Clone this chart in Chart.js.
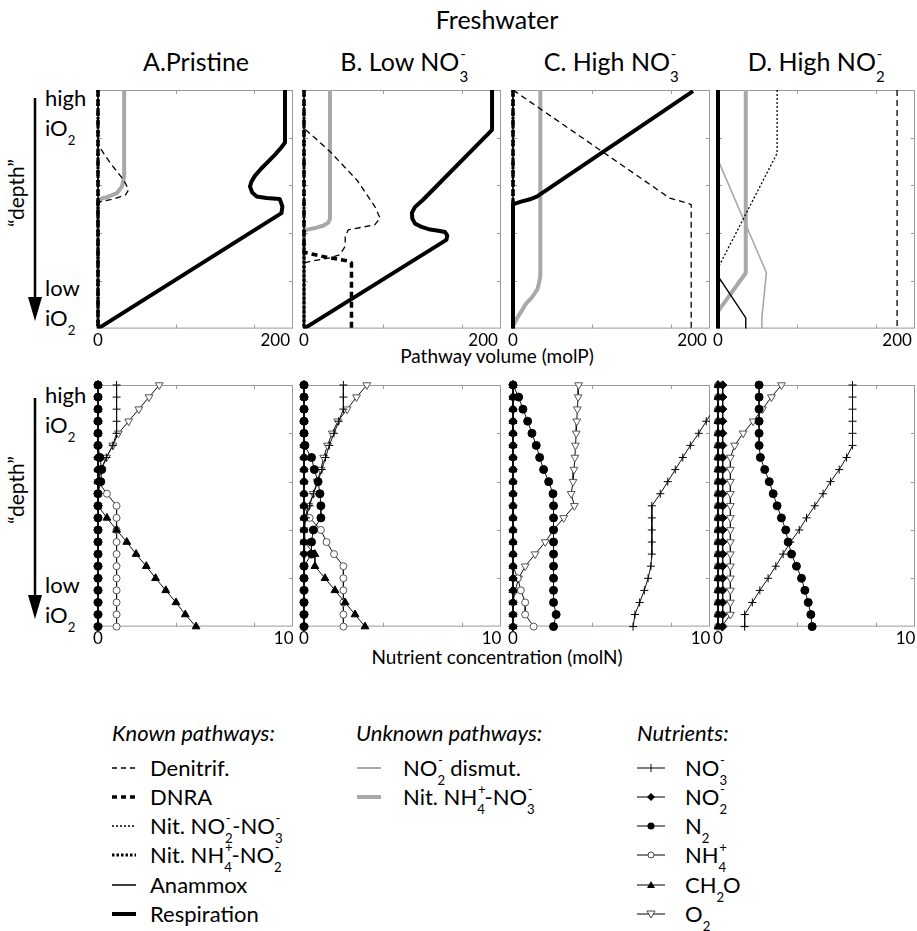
<!DOCTYPE html>
<html><head><meta charset="utf-8">
<script src="https://cdn.jsdelivr.net/npm/chart.js@4.4.1/dist/chart.umd.min.js"></script>
<style>
html,body{margin:0;padding:0;background:#fff;overflow:hidden;width:917px;height:931px;}
body{position:relative;font-family:Lato,'Open Sans',sans-serif;color:#000;}
.t{position:absolute;white-space:nowrap;line-height:1;}
.c{transform:translateX(-50%);}
canvas{position:absolute;}
.ss{position:relative;display:inline-block;height:0;width:0.55em;font-size:0.6em;}
.sp{position:absolute;left:0.05em;bottom:0.7em;}
.sb{position:absolute;left:0;top:-0.15em;}
.it{font-style:italic;}
svg{position:absolute;left:0;top:0;}
.lg{font-size:22px;}
</style>
</head><body>

<!-- titles -->
<div class="t c" style="left:497px;top:7px;font-size:25px;">Freshwater</div>
<div class="t c" style="left:196px;top:49px;font-size:25px;">A.Pristine</div>
<div class="t c" style="left:404px;top:49px;font-size:25px;">B. Low NO<span class="ss"><span class="sp">-</span><span class="sb">3</span></span></div>
<div class="t c" style="left:611px;top:49px;font-size:25px;">C. High NO<span class="ss"><span class="sp">-</span><span class="sb">3</span></span></div>
<div class="t c" style="left:816px;top:49px;font-size:25px;">D. High NO<span class="ss"><span class="sp">-</span><span class="sb">2</span></span></div>

<!-- left depth labels -->
<div class="t" style="left:45px;top:87px;font-size:22px;">high</div>
<div class="t" style="left:45px;top:117px;font-size:22px;">iO<span class="ss"><span class="sb">2</span></span></div>
<div class="t" style="left:45px;top:277px;font-size:22px;">low</div>
<div class="t" style="left:45px;top:307px;font-size:22px;">iO<span class="ss"><span class="sb">2</span></span></div>
<div class="t" style="left:45px;top:384px;font-size:22px;">high</div>
<div class="t" style="left:45px;top:414px;font-size:22px;">iO<span class="ss"><span class="sb">2</span></span></div>
<div class="t" style="left:45px;top:574px;font-size:22px;">low</div>
<div class="t" style="left:45px;top:604px;font-size:22px;">iO<span class="ss"><span class="sb">2</span></span></div>
<div class="t" style="left:15px;top:193px;font-size:21px;transform:translate(-50%,-50%) rotate(-90deg);">&#8220;depth&#8221;</div>
<div class="t" style="left:15px;top:490px;font-size:21px;transform:translate(-50%,-50%) rotate(-90deg);">&#8220;depth&#8221;</div>

<!-- axis titles -->
<div class="t c" style="left:497px;top:346px;font-size:19px;">Pathway volume (molP)</div>
<div class="t c" style="left:497px;top:647px;font-size:19px;">Nutrient concentration (molN)</div>

<!-- legend text -->
<div class="t it lg" style="left:112px;top:722px;">Known pathways:</div>
<div class="t lg" style="left:150px;top:757px;">Denitrif.</div>
<div class="t lg" style="left:150px;top:786px;">DNRA</div>
<div class="t lg" style="left:150px;top:815px;">Nit. NO<span class="ss"><span class="sp">-</span><span class="sb">2</span></span>-NO<span class="ss"><span class="sp">-</span><span class="sb">3</span></span></div>
<div class="t lg" style="left:150px;top:844px;">Nit. NH<span class="ss"><span class="sp">+</span><span class="sb">4</span></span>-NO<span class="ss"><span class="sp">-</span><span class="sb">2</span></span></div>
<div class="t lg" style="left:150px;top:874px;">Anammox</div>
<div class="t lg" style="left:150px;top:903px;">Respiration</div>

<div class="t it lg" style="left:356px;top:722px;">Unknown pathways:</div>
<div class="t lg" style="left:403px;top:757px;">NO<span class="ss"><span class="sp">-</span><span class="sb">2</span></span> dismut.</div>
<div class="t lg" style="left:403px;top:786px;">Nit. NH<span class="ss"><span class="sp">+</span><span class="sb">4</span></span>-NO<span class="ss"><span class="sp">-</span><span class="sb">3</span></span></div>

<div class="t it lg" style="left:637px;top:722px;">Nutrients:</div>
<div class="t lg" style="left:685px;top:757px;">NO<span class="ss"><span class="sp">-</span><span class="sb">3</span></span></div>
<div class="t lg" style="left:685px;top:786px;">NO<span class="ss"><span class="sp">-</span><span class="sb">2</span></span></div>
<div class="t lg" style="left:685px;top:815px;">N<span class="ss"><span class="sb">2</span></span></div>
<div class="t lg" style="left:685px;top:844px;">NH<span class="ss"><span class="sp">+</span><span class="sb">4</span></span></div>
<div class="t lg" style="left:685px;top:874px;">CH<span class="ss" style="width:0.5em"><span class="sb">2</span></span>O</div>
<div class="t lg" style="left:685px;top:903px;">O<span class="ss"><span class="sb">2</span></span></div>

<svg width="917" height="931">
  <!-- depth arrows -->
  <line x1="35" y1="98" x2="35" y2="300" stroke="#000" stroke-width="2.5"/>
  <polygon points="28,297 42,297 35,321" fill="#000"/>
  <line x1="35" y1="398" x2="35" y2="598" stroke="#000" stroke-width="2.5"/>
  <polygon points="28,595 42,595 35,619" fill="#000"/>
  <!-- legend samples: known -->
  <line x1="112" y1="768" x2="136" y2="768" stroke="#000" stroke-width="1.4" stroke-dasharray="5,4"/>
  <line x1="112" y1="797" x2="136" y2="797" stroke="#000" stroke-width="3.5" stroke-dasharray="5,4"/>
  <line x1="112" y1="826" x2="136" y2="826" stroke="#000" stroke-width="1.3" stroke-dasharray="2,2"/>
  <line x1="112" y1="855" x2="136" y2="855" stroke="#000" stroke-width="3" stroke-dasharray="2.5,2"/>
  <line x1="112" y1="885" x2="136" y2="885" stroke="#000" stroke-width="1.5"/>
  <line x1="112" y1="914" x2="136" y2="914" stroke="#000" stroke-width="4"/>
  <!-- unknown -->
  <line x1="357" y1="768" x2="381" y2="768" stroke="#a8a8a8" stroke-width="2"/>
  <line x1="357" y1="797" x2="381" y2="797" stroke="#a8a8a8" stroke-width="4"/>
  <!-- nutrients -->
  <g stroke="#000" stroke-width="1">
    <line x1="637" y1="768" x2="665" y2="768"/>
    <line x1="651" y1="764" x2="651" y2="772"/>
    <line x1="637" y1="797" x2="665" y2="797"/>
    <line x1="637" y1="826" x2="665" y2="826"/>
    <line x1="637" y1="855" x2="665" y2="855"/>
    <line x1="637" y1="885" x2="665" y2="885"/>
    <line x1="637" y1="914" x2="665" y2="914"/>
  </g>
  <polygon points="651,793 655,797 651,801 647,797" fill="#000"/>
  <circle cx="651" cy="826" r="3.5" fill="#000"/>
  <circle cx="651" cy="855" r="3" fill="#fff" stroke="#444" stroke-width="1"/>
  <polygon points="651,881 655,888 647,888" fill="#000"/>
  <polygon points="647,911 655,911 651,918" fill="#fff" stroke="#444" stroke-width="1"/>
</svg>

<script>
// ---------- DATA ----------
// Pathway panels (x = pathway volume molP, y = normalised "depth", 0 = high iO2, 1 = low iO2)
const A_RESP_X = [211,211,207,200,192,184,177,173,171.5,174,179,190,205,208,207,0];
const A_RESP_Y = [0,0.22,0.24,0.27,0.3,0.33,0.36,0.385,0.405,0.43,0.446,0.453,0.457,0.488,0.516,1];
const A_NITNH4NO3_X = [29.5,29.5,27,21.5,10,2.5,0,0];
const A_NITNH4NO3_Y = [0,0.363,0.405,0.432,0.449,0.457,0.462,1];
const A_DENITRIF_X = [0,0,14,29,34.5,31,19,3,0,0];
const A_DENITRIF_Y = [0,0.23,0.307,0.377,0.418,0.44,0.455,0.468,0.475,1];

const B_RESP_X = [210,210,133,124,120.5,121,124,132,141,150,157.5,160,159,0];
const B_RESP_Y = [0,0.167,0.46,0.49,0.515,0.54,0.56,0.575,0.585,0.59,0.595,0.61,0.628,1];
const B_NITNH4NO3_X = [29,29,27,22,14,6,2,0,0];
const B_NITNH4NO3_Y = [0,0.54,0.556,0.568,0.577,0.583,0.587,0.59,1];
const B_DENITRIF_X = [0,0,29,59,79,85,79,49.5,46,46,40,29,7,0,0];
const B_DENITRIF_Y = [0,0.16,0.258,0.377,0.488,0.537,0.565,0.586,0.614,0.655,0.69,0.704,0.718,0.725,1];
const B_DNRA_X = [0,0,24,51,53,53];
const B_DNRA_Y = [0,0.68,0.70,0.718,0.725,1];

const C_RESP_X = [201,27,19,9,3,0,0];
const C_RESP_Y = [0.005,0.446,0.458,0.468,0.475,0.48,1];
const C_DENITRIF_X = [0,175,188,199,199];
const C_DENITRIF_Y = [0,0.453,0.467,0.48,1];
const C_NITNH4NO3_X = [30.5,30.5,29,27,21,15,9,4,0,0];
const C_NITNH4NO3_Y = [0,0.78,0.81,0.837,0.87,0.893,0.93,0.96,0.99,1];

const D_DENITRIF_X = [200,200];
const D_DENITRIF_Y = [0,1];
const D_NITNO2NO3_X = [66,66,0,0];
const D_NITNO2NO3_Y = [0,0.265,0.746,1];
const D_DISMUT_X = [0,0,54,49,49];
const D_DISMUT_Y = [0,0.293,0.765,0.955,1];
const D_NITNH4NO3_X = [31,31,0,0];
const D_NITNH4NO3_Y = [0,0.767,0.928,1];
const D_ANAMMOX_X = [0,0,31,31];
const D_ANAMMOX_Y = [0,0.78,0.955,1];
const D_RESP_X = [0,0];
const D_RESP_Y = [0,1];

const ZERO_X = [0,0];
const ZERO_Y = [0,1];

// Nutrient panels (x = concentration molN, sampled at 21 depths)
const DEPTH = [0,0.05,0.1,0.15,0.2,0.25,0.3,0.35,0.4,0.45,0.5,0.55,0.6,0.65,0.7,0.75,0.8,0.85,0.9,0.95,1];
const ZEROS = [0,0,0,0,0,0,0,0,0,0,0,0,0,0,0,0,0,0,0,0,0];

const A_NO3  = [1,1,1,1,1,0.8,0.45,0.15,0,0,0,0,0,0,0,0,0,0,0,0,0];
const A_NO2  = ZEROS;
const A_N2   = [0,0,0,0,0,0,0.1,0.2,0.15,0,0,0,0,0,0,0,0,0,0,0,0];
const A_NH4  = [0,0,0,0,0,0,0,0,0.05,0.48,1,1,1,1,1,1,1,1,1,1,1];
const A_CH2O = [0,0,0,0,0,0,0,0,0,0,0,0.48,1,1.55,2.05,2.6,3.1,3.65,4.2,4.7,5.28];
const A_O2   = [3.3,2.75,2.2,1.65,1.1,0.8,0.45,0.2,0,0,0,0,0,0,0,0,0,0,0,0,0];

const B_NO3  = [2.1,2.1,2.1,1.85,1.6,1.35,1.15,0.95,0.75,0.5,0.3,0.1,0,0,0,0,0,0,0,0,0];
const B_NO2  = ZEROS;
const B_N2   = [0,0,0,0,0,0.05,0.4,0.55,0.75,0.85,0.9,0.9,0.5,0.4,0.4,0,0,0,0,0,0];
const B_NH4  = [0,0,0,0,0,0,0,0,0,0,0,0.3,0.9,1.2,1.6,2.1,2.1,2.1,2.1,2.1,2.1];
const B_CH2O = [0,0,0,0,0,0,0,0,0,0,0,0,0,0,0.58,0.58,1.12,1.65,2.19,2.72,3.25];
const B_O2   = [3.35,2.8,2.3,1.8,1.5,1.25,1.05,0.9,0.7,0.5,0.25,0.05,0,0,0,0,0,0,0,0,0];

const C_NO3  = [11.5,11.1,10.7,10.3,9.9,9.45,9.05,8.65,8.25,7.85,7.4,7.4,7.4,7.4,7.4,7.35,7.2,7.0,6.75,6.5,6.4];
const C_NO2  = ZEROS;
const C_N2   = [0,0.3,0.53,0.78,1.01,1.24,1.42,1.63,1.9,2.13,2.16,2.16,2.16,2.16,2.16,2.16,2.16,2.16,2.16,2.3,2.16];
const C_NH4  = [0,0,0,0,0,0,0,0,0,0,0,0,0,0,0,0,0.25,0.42,0.65,0.65,1.1];
const C_CH2O = ZEROS;
const C_O2   = [3.5,3.47,3.43,3.4,3.37,3.33,3.3,3.25,3.2,3.1,3.27,2.7,2.16,1.72,1.18,0.65,0.3,0.12,0,0,0];

const D_NO3  = [7.17,7.17,7.17,7.17,7.17,7.17,6.85,6.46,6.0,5.6,5.16,4.72,4.33,3.86,3.47,3.08,2.67,2.23,1.83,1.42,1.42];
const D_NO2  = [0.25,0.25,0.25,0.25,0.25,0.25,0.25,0.25,0.25,0.25,0.25,0.25,0.25,0.25,0.25,0.25,0.25,0.25,0.25,0.25,0.25];
const D_N2   = [2.19,2.19,2.19,2.19,2.19,2.19,2.26,2.49,2.73,2.94,3.15,3.38,3.61,3.74,3.92,4.18,4.45,4.63,4.81,4.95,5.02];
const D_NH4  = ZEROS;
const D_CH2O = ZEROS;
const D_O2   = [3.38,2.85,2.37,1.87,1.34,0.89,0.66,0.66,0.66,0.66,0.66,0.66,0.66,0.66,0.66,0.66,0.66,0.66,0.66,0.66,0.2];

// axis tick labels and unlabeled inner tick marks
const TOP_X_LABELS = [0, 200];
const BOT_X_LABELS = [0, 10];
const TOP_X_MARKS = [88, 176];
const BOT_X_MARKS = [4.2, 8.4];
const Y_MARKS = [0.2, 0.4, 0.6, 0.8];

// ---------- LAYOUT / STYLE ----------
const COLS = [[98,293],[304,501],[513,710],[718,915]];
const ROWS = [[90,329],[385,627]];
const PAD = 10;
const TICK_FONT = 17;
const AXIS_H = TICK_FONT * 1.2 + 4;

Chart.defaults.font.family = 'Lato, "Open Sans", sans-serif';
Chart.defaults.color = '#000';

const pts = (xs, ys) => xs.map((x, i) => ({x: x, y: ys[i]}));

const PATH_STYLE = {
  resp:      {borderColor:'#000', borderWidth:4, borderDash:[]},
  nitNH4NO2: {borderColor:'#000', borderWidth:3.2, borderDash:[2.5,2]},
  dnra:      {borderColor:'#000', borderWidth:3.5, borderDash:[6,4]},
  denitrif:  {borderColor:'#000', borderWidth:1.3, borderDash:[6,4]},
  nitNO2NO3: {borderColor:'#000', borderWidth:1.3, borderDash:[2,2]},
  anammox:   {borderColor:'#000', borderWidth:1.4, borderDash:[]},
  nitNH4NO3: {borderColor:'#a8a8a8', borderWidth:4, borderDash:[]},
  dismut:    {borderColor:'#a8a8a8', borderWidth:1.6, borderDash:[]}
};
const PATH_ORDER = ['resp','nitNH4NO2','dnra','denitrif','nitNO2NO3','anammox','nitNH4NO3','dismut'];

const TOP_PANELS = [
  {resp:[A_RESP_X,A_RESP_Y], denitrif:[A_DENITRIF_X,A_DENITRIF_Y], nitNH4NO3:[A_NITNH4NO3_X,A_NITNH4NO3_Y]},
  {resp:[B_RESP_X,B_RESP_Y], denitrif:[B_DENITRIF_X,B_DENITRIF_Y], dnra:[B_DNRA_X,B_DNRA_Y], nitNH4NO3:[B_NITNH4NO3_X,B_NITNH4NO3_Y]},
  {resp:[C_RESP_X,C_RESP_Y], denitrif:[C_DENITRIF_X,C_DENITRIF_Y], nitNH4NO3:[C_NITNH4NO3_X,C_NITNH4NO3_Y]},
  {resp:[D_RESP_X,D_RESP_Y], denitrif:[D_DENITRIF_X,D_DENITRIF_Y], nitNO2NO3:[D_NITNO2NO3_X,D_NITNO2NO3_Y],
   dismut:[D_DISMUT_X,D_DISMUT_Y], nitNH4NO3:[D_NITNH4NO3_X,D_NITNH4NO3_Y], anammox:[D_ANAMMOX_X,D_ANAMMOX_Y]}
];

const NUT_STYLE = {
  N2:   {pointStyle:'circle', pointRadius:4, pointBackgroundColor:'#000', pointBorderColor:'#000'},
  NO2:  {pointStyle:'rectRot', pointRadius:4.2, pointBackgroundColor:'#000', pointBorderColor:'#000'},
  CH2O: {pointStyle:'triangle', pointRadius:4.5, pointBackgroundColor:'#000', pointBorderColor:'#000'},
  NO3:  {pointStyle:'cross', pointRadius:4, pointBackgroundColor:'#000', pointBorderColor:'#000'},
  NH4:  {pointStyle:'circle', pointRadius:3.5, pointBackgroundColor:'#fff', pointBorderColor:'#555'},
  O2:   {pointStyle:'triangle', pointRotation:180, pointRadius:4.5, pointBackgroundColor:'#fff', pointBorderColor:'#555'}
};
const NUT_ORDER = ['N2','NO2','CH2O','NO3','NH4','O2'];
const BOT_PANELS = [
  {NO3:A_NO3, NO2:A_NO2, N2:A_N2, NH4:A_NH4, CH2O:A_CH2O, O2:A_O2},
  {NO3:B_NO3, NO2:B_NO2, N2:B_N2, NH4:B_NH4, CH2O:B_CH2O, O2:B_O2},
  {NO3:C_NO3, NO2:C_NO2, N2:C_N2, NH4:C_NH4, CH2O:C_CH2O, O2:C_O2},
  {NO3:D_NO3, NO2:D_NO2, N2:D_N2, NH4:D_NH4, CH2O:D_CH2O, O2:D_O2}
];

// frame + inward tick marks (matlab style box)
const boxPlugin = {
  id: 'box',
  beforeDatasetsDraw(chart, args, opts) {
    const {ctx, chartArea: a, scales: {x, y}} = chart;
    ctx.save();
    ctx.strokeStyle = '#9a9a9a';
    ctx.lineWidth = 1;
    ctx.strokeRect(a.left + 0.5, a.top + 0.5, a.right - a.left - 1, a.bottom - a.top - 1);
    ctx.beginPath();
    opts.xMarks.forEach(v => {
      const p = Math.round(x.getPixelForValue(v)) + 0.5;
      ctx.moveTo(p, a.top); ctx.lineTo(p, a.top + 4);
      ctx.moveTo(p, a.bottom); ctx.lineTo(p, a.bottom - 4);
    });
    opts.yMarks.forEach(v => {
      const p = Math.round(y.getPixelForValue(v)) + 0.5;
      ctx.moveTo(a.left, p); ctx.lineTo(a.left + 4, p);
      ctx.moveTo(a.right, p); ctx.lineTo(a.right - 4, p);
    });
    ctx.stroke();
    ctx.restore();
  }
};

function makePanel(col, row, datasets, xMax, labels, marks) {
  const [l, r] = COLS[col];
  const [t, b] = ROWS[row];
  const cv = document.createElement('canvas');
  const w = (r - l) + 2 * PAD;
  const h = Math.round((b - t) + PAD + AXIS_H);
  cv.width = w; cv.height = h;
  cv.style.left = (l - PAD) + 'px';
  cv.style.top = (t - PAD) + 'px';
  cv.style.width = w + 'px'; cv.style.height = h + 'px';
  document.body.appendChild(cv);
  new Chart(cv, {
    type: 'scatter',
    data: {datasets: datasets},
    options: {
      responsive: false, animation: false, devicePixelRatio: 1,
      layout: {autoPadding: false, padding: {left: PAD, right: PAD, top: PAD, bottom: 0}},
      plugins: {legend: {display: false}, tooltip: {enabled: false},
                box: {xMarks: marks, yMarks: Y_MARKS}},
      scales: {
        x: {type: 'linear', min: 0, max: xMax, position: 'bottom',
            grid: {display: false, drawTicks: false}, border: {display: false},
            afterBuildTicks: s => { s.ticks = labels.map(v => ({value: v})); },
            ticks: {padding: 2, font: {size: TICK_FONT}, color: '#000', autoSkip: false, maxRotation: 0}},
        y: {type: 'linear', min: 0, max: 1, reverse: true, display: false}
      }
    },
    plugins: [boxPlugin]
  });
}

TOP_PANELS.forEach((p, i) => {
  const ds = PATH_ORDER.map(k => {
    const d = p[k] || [ZERO_X, ZERO_Y];
    return Object.assign({label: k, data: pts(d[0], d[1]), showLine: true, pointRadius: 0,
      tension: 0, fill: false, borderCapStyle: 'butt', borderJoinStyle: 'round',
      clip: {left: 4, top: 0, right: 0, bottom: 0}}, PATH_STYLE[k]);
  });
  makePanel(i, 0, ds, 220, TOP_X_LABELS, TOP_X_MARKS);
});

BOT_PANELS.forEach((p, i) => {
  const ds = NUT_ORDER.map(k => Object.assign({
    label: k, data: pts(p[k], DEPTH), showLine: true, tension: 0,
    borderColor: '#111', borderWidth: 1, pointBorderWidth: 1,
    clip: {left: 8, top: 8, right: 0, bottom: 8}
  }, NUT_STYLE[k]));
  makePanel(i, 1, ds, 10.5, BOT_X_LABELS, BOT_X_MARKS);
});
</script>
</body></html>
